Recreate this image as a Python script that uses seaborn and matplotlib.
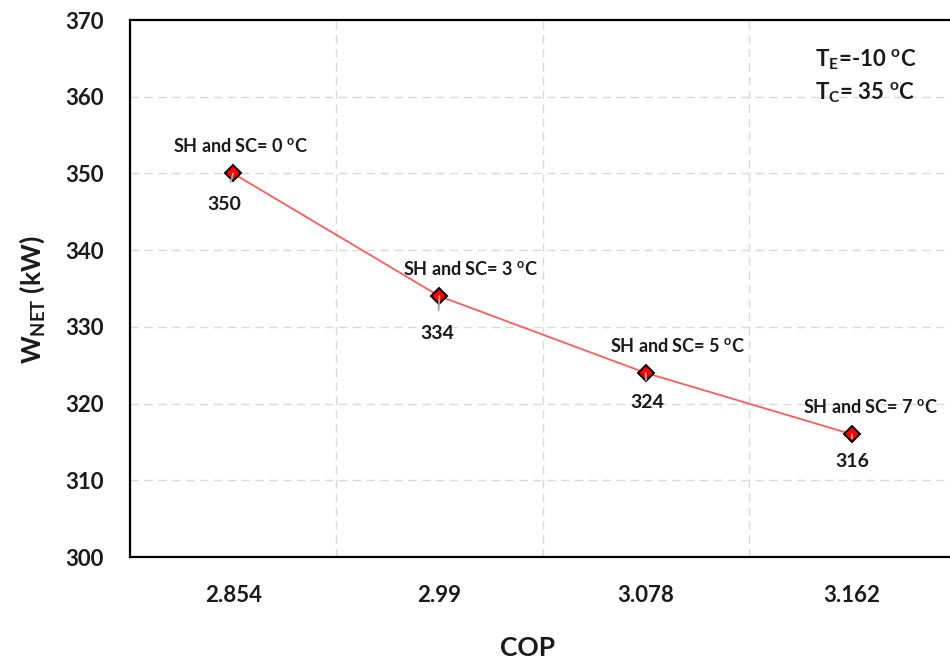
import matplotlib
matplotlib.use("Agg")
import matplotlib.pyplot as plt
import seaborn as sns

# Net compressor work against COP for increasing superheat / subcooling
cop_labels = ["2.854", "2.99", "3.078", "3.162"]
w_net = [350, 334, 324, 316]
sh_sc = [0, 3, 5, 7]

sns.set_theme(style="white")
plt.rcParams["font.family"] = ["Lato", "DejaVu Sans"]
plt.rcParams["font.weight"] = "bold"
plt.rcParams["mathtext.fontset"] = "custom"
plt.rcParams["mathtext.rm"] = "Lato:bold"
plt.rcParams["mathtext.it"] = "Lato:bold"
plt.rcParams["mathtext.bf"] = "Lato:bold"

fig = plt.figure(figsize=(9.5, 6.64), dpi=100)
ax = fig.add_axes([130 / 950, 1 - 557 / 664, 825 / 950, 537 / 664])

x_pos = list(range(len(cop_labels)))
sns.lineplot(x=x_pos, y=w_net, ax=ax, color="#FF5B5B", linewidth=1.3,
             marker="D", markersize=8.5, markerfacecolor="#FF0000",
             markeredgecolor="black", markeredgewidth=1.4, zorder=3)

ax.set_xlim(-0.5, len(cop_labels) - 0.5)
ax.set_ylim(300, 370)
ax.set_xticks(x_pos)
ax.set_xticklabels(cop_labels)
ax.set_yticks(range(300, 371, 10))
ax.tick_params(axis="both", length=0, labelsize=16, labelcolor="#1a1a1a")
ax.tick_params(axis="y", pad=19)
ax.tick_params(axis="x", pad=20)
for lab in ax.get_xticklabels() + ax.get_yticklabels():
    lab.set_fontweight("bold")

# dashed grid: horizontal at interior values, vertical between categories
for yv in range(310, 370, 10):
    ax.axhline(yv, color="#D9D9D9", linestyle=(0, (6, 4)), linewidth=1.0, zorder=0)
for xv in [0.5, 1.5, 2.5]:
    ax.axvline(xv, color="#D9D9D9", linestyle=(0, (6, 4)), linewidth=1.0, zorder=0)

for side in ["left", "top", "bottom", "right"]:
    ax.spines[side].set_color("black")
    ax.spines[side].set_linewidth(1.6)

# condition labels above each point, value labels with leader lines below
label_off = [(7, 27), (31, 27), (32, 27), (19, 27)]
value_off = [(-9, -31), (-2, -37), (2, -30), (0, -27)]
for xi, yv, s, lo, vo in zip(x_pos, w_net, sh_sc, label_off, value_off):
    ax.annotate(f"SH and SC= {s} $^{{o}}$C", (xi, yv), xytext=lo,
                textcoords="offset pixels", ha="center", va="center",
                fontsize=13, fontweight="bold", color="#1a1a1a", zorder=5)
    ax.annotate(f"{yv}", (xi, yv), xytext=vo, textcoords="offset pixels",
                ha="center", va="center", fontsize=14, fontweight="bold",
                color="#1a1a1a", zorder=5,
                arrowprops=dict(arrowstyle="-", color="#A6A6A6", lw=1.3,
                                shrinkA=8, shrinkB=0))

fig.text(815 / 950, 1 - 60 / 664, r"T$_{\rm E}$=-10 $^{\rm o}$C", fontsize=16,
         fontweight="bold", ha="left", va="center", color="#1a1a1a")
fig.text(815 / 950, 1 - 93 / 664, r"T$_{\rm C}$= 35 $^{\rm o}$C", fontsize=16,
         fontweight="bold", ha="left", va="center", color="#1a1a1a")

fig.text(32 / 950, 1 - 300 / 664, r"W$_{\rm NET}$ (kW)", fontsize=19,
         fontweight="bold", rotation=90, ha="center", va="center", color="#1a1a1a")
fig.text(528 / 950, 1 - 648 / 664, "COP", fontsize=19, fontweight="bold",
         ha="center", va="center", color="#1a1a1a")

fig.savefig("out.png", dpi=100)
